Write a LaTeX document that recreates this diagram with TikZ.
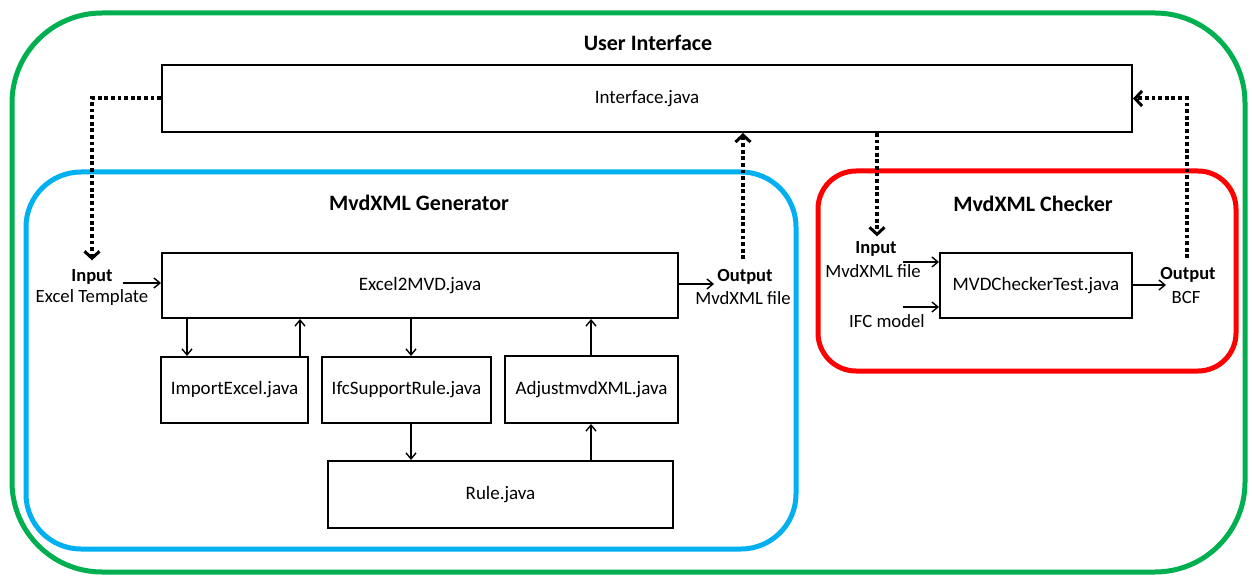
\documentclass[tikz,border=0pt]{standalone}
\usepackage{fontspec}
\setmainfont{Carlito}
\usetikzlibrary{arrows.meta}
\definecolor{gr}{RGB}{0,176,80}
\definecolor{bl}{RGB}{0,176,240}
\definecolor{rd}{RGB}{255,0,0}
\tikzset{
  box/.style={draw=black, line width=2pt, fill=white, inner sep=0pt, font=\fontsize{19}{21}\selectfont},
  group/.style={line width=5pt, rounded corners=#1},
  title/.style={font=\fontsize{22}{24}\selectfont\bfseries, inner sep=0pt},
  lbl/.style={font=\fontsize{18.5}{20}\selectfont\bfseries, inner sep=1pt},
  sub/.style={font=\fontsize{18.7}{20}\selectfont, inner sep=0pt},
  arr/.style={line width=1.4pt, -{Straight Barb[length=6pt,width=10pt,line width=1.4pt]}},
  dotarr/.style={line width=4pt, dash pattern=on 3.8pt off 2.8pt, -{Straight Barb[length=7pt,width=15pt,line width=3pt]}}
}
\begin{document}
\begin{tikzpicture}[x=1pt,y=-1pt]
\useasboundingbox (0,0) rectangle (1252,577);
\fill[white] (0,0) rectangle (1252,577);
% group frames
\draw[gr, group=90] (12,13) rectangle (1245,572);
\draw[bl, group=55] (26,172) rectangle (796,549);
\draw[rd, group=38] (818,171) rectangle (1236,371);
% titles
\node[title] (tui) at (648,43) {User Interface};
\node[title] (tgen) at (419,203) {MvdXML Generator};
\node[title] (tchk) at (1033,204) {MvdXML Checker};
% boxes
\node[box, minimum width=970, minimum height=67] (iface) at (647,98.5) {Interface.java};
\node[box, minimum width=516, minimum height=65] (excel) at (420,285.5) {Excel2MVD.java};
\node[box, minimum width=147, minimum height=66] (imp) at (234.5,390) {ImportExcel.java};
\node[box, minimum width=169, minimum height=66] (ifcs) at (406.5,390) {IfcSupportRule.java};
\node[box, minimum width=173, minimum height=67] (adj) at (591.5,389.5) {AdjustmvdXML.java};
\node[box, minimum width=345, minimum height=67] (rule) at (500.5,494.5) {Rule.java};
\node[box, minimum width=192, minimum height=65] (mvdc) at (1036,285.5) {MVDCheckerTest.java};
% input / output labels
\node[lbl] (in1) at (92,277) {Input};
\node[sub] (in1b) at (92,298) {Excel Template};
\node[lbl] (out1) at (745,277) {Output};
\node[sub] (out1b) at (743,298) {MvdXML file};
\node[lbl] (in2) at (876,249) {Input};
\node[sub] (in2b) at (873,271) {MvdXML file};
\node[sub] (ifc) at (887,321) {IFC model};
\node[lbl] (out2) at (1188,275) {Output};
\node[sub] (out2b) at (1186,297) {BCF};
% helper coordinates
\coordinate (x1) at (187,0);
\coordinate (x2) at (300,0);
\coordinate (x3) at (411,0);
\coordinate (x4) at (591,0);
\coordinate (a1) at (123,283);
\coordinate (a2) at (903,262);
\coordinate (a3) at (903,307);
\coordinate (a4) at (1166,285);
\coordinate (a5) at (714,284);
\coordinate (xo) at (743,0);
\coordinate (xi) at (877,0);
\coordinate (xb) at (1187,0);
% solid arrows
\draw[arr] (x1 |- excel.south) -- (x1 |- imp.north);
\draw[arr] (x2 |- imp.north) -- (x2 |- excel.south);
\draw[arr] (x3 |- excel.south) -- (x3 |- ifcs.north);
\draw[arr] (x3 |- ifcs.south) -- (x3 |- rule.north);
\draw[arr] (x4 |- rule.north) -- (x4 |- adj.south);
\draw[arr] (x4 |- adj.north) -- (x4 |- excel.south);
\draw[arr] (a1) -- (a1 -| excel.west);
\draw[arr] (a5 -| excel.east) -- (a5);
\draw[arr] (a2) -- (a2 -| mvdc.west);
\draw[arr] (a3) -- (a3 -| mvdc.west);
\draw[arr] (a4 -| mvdc.east) -- (a4);
% dotted arrows
\draw[dotarr] (iface.west) -| ([yshift=8pt]in1.north);
\draw[dotarr] ([yshift=9pt]xo |- out1.north) -- (xo |- iface.south);
\draw[dotarr] (xi |- iface.south) -- ([yshift=4pt]xi |- in2.north);
\draw[dotarr] ([yshift=8pt]xb |- out2.north) |- (iface.east);
\end{tikzpicture}
\end{document}
